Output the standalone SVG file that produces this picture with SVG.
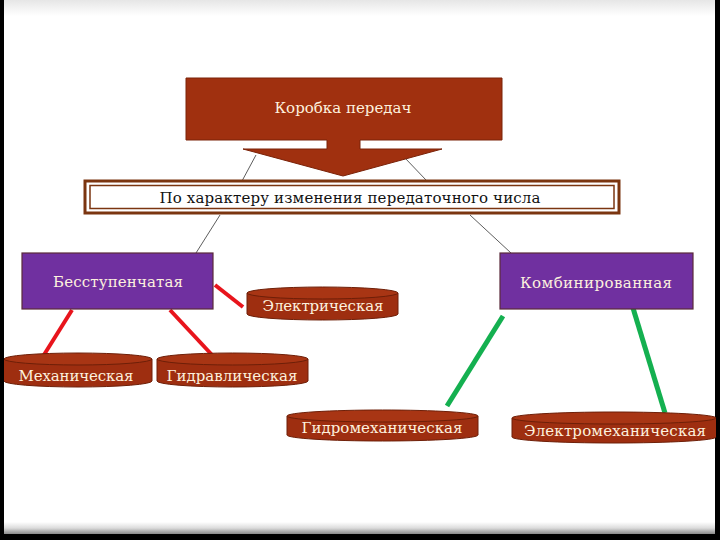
<svg xmlns="http://www.w3.org/2000/svg" width="720" height="540" viewBox="0 0 720 540">
<defs>
<linearGradient id="topShade" x1="0" y1="0" x2="0" y2="1">
<stop offset="0" stop-color="#e6e6e6"/><stop offset="1" stop-color="#ffffff"/>
</linearGradient>
<linearGradient id="botShade" x1="0" y1="0" x2="0" y2="1">
<stop offset="0" stop-color="#ffffff"/><stop offset="0.5" stop-color="#dcdcdc"/><stop offset="1" stop-color="#8a8a8a"/>
</linearGradient>
<style>
.lbl{font-family:"DejaVu Serif","Liberation Serif",serif;font-size:15px;fill:#fdf1de;text-anchor:middle}
.dark{fill:#111}
.cyl{fill:#9e2e10;stroke:#6e1f08;stroke-width:1}
.cyltop{fill:#a83514;stroke:#6e1f08;stroke-width:1}
.body{fill:#9e2e10}
.edge{stroke:#6e1f08;stroke-width:1}
.box{fill:#7030a0;stroke:#5a2a3a;stroke-width:1.2}
.thin{stroke:#333;stroke-width:0.8;fill:none}
.red{stroke:#e8141c;stroke-width:4;stroke-linecap:butt}
.green{stroke:#14b050;stroke-width:5;stroke-linecap:butt}
</style>
</defs>
<!-- frame -->
<rect x="0" y="0" width="720" height="540" fill="#000"/>
<rect x="4" y="0" width="711" height="534" fill="#fff"/>
<rect x="4" y="0" width="711" height="16" fill="url(#topShade)"/>
<rect x="4" y="522" width="711" height="12" fill="url(#botShade)"/>

<g id="connectors">
<line class="thin" x1="256" y1="155" x2="242" y2="181"/>
<line class="thin" x1="405" y1="158" x2="426" y2="180"/>
<line class="thin" x1="220" y1="215" x2="196" y2="253"/>
<line class="thin" x1="470" y1="215" x2="511" y2="253"/>
<line class="red" x1="215" y1="285" x2="243" y2="307"/>
<line class="red" x1="72" y1="310" x2="42" y2="358"/>
<line class="red" x1="170" y1="310" x2="213" y2="356"/>
<line class="green" x1="503" y1="316" x2="447" y2="406"/>
<line class="green" x1="633" y1="308" x2="665" y2="413"/>
</g>

<g id="gearbox">
<path d="M186,78 H502 V140 H360 V149 H442 L343,176 L243,149 H327 V140 H186 Z" fill="#a0300f" stroke="#7a2208" stroke-width="1"/>
<text class="lbl" x="343" y="113" textLength="137">Коробка передач</text>
</g>

<g id="criterion">
<rect x="85" y="181" width="534" height="32" fill="#fff" stroke="#7b3510" stroke-width="3"/>
<rect x="90" y="185.5" width="524" height="23" fill="none" stroke="#7b3510" stroke-width="1.5"/>
<text class="lbl dark" x="350" y="203" textLength="381">По характеру изменения передаточного числа</text>
</g>

<g id="stepless">
<rect class="box" x="22" y="253" width="191" height="56"/>
<text class="lbl" x="118" y="287" textLength="130">Бесступенчатая</text>
</g>

<g id="combined">
<rect class="box" x="500" y="253" width="193" height="56"/>
<text class="lbl" x="596" y="288" textLength="152">Комбинированная</text>
</g>

<g id="electric">
<ellipse class="cyl" cx="322.5" cy="314" rx="75.5" ry="6"/>
<rect class="body" x="247" y="293" width="151" height="21"/>
<line class="edge" x1="247" y1="293" x2="247" y2="314"/>
<line class="edge" x1="398" y1="293" x2="398" y2="314"/>
<ellipse class="cyltop" cx="322.5" cy="293" rx="75.5" ry="6"/>
<text class="lbl" x="323" y="311" textLength="121">Электрическая</text>
</g>

<g id="mechanical">
<ellipse class="cyl" cx="78" cy="381" rx="74" ry="6"/>
<rect class="body" x="4" y="359" width="148" height="22"/>
<line class="edge" x1="152" y1="359" x2="152" y2="381"/>
<ellipse class="cyltop" cx="78" cy="359" rx="74" ry="6"/>
<text class="lbl" x="76" y="381" textLength="115">Механическая</text>
</g>

<g id="hydraulic">
<ellipse class="cyl" cx="232.5" cy="381" rx="75.5" ry="6"/>
<rect class="body" x="157" y="359" width="151" height="22"/>
<line class="edge" x1="157" y1="359" x2="157" y2="381"/>
<line class="edge" x1="308" y1="359" x2="308" y2="381"/>
<ellipse class="cyltop" cx="232.5" cy="359" rx="75.5" ry="6"/>
<text class="lbl" x="232" y="381" textLength="131">Гидравлическая</text>
</g>

<g id="hydromechanical">
<ellipse class="cyl" cx="382.5" cy="435" rx="95.5" ry="6"/>
<rect class="body" x="287" y="416" width="191" height="19"/>
<line class="edge" x1="287" y1="416" x2="287" y2="435"/>
<line class="edge" x1="478" y1="416" x2="478" y2="435"/>
<ellipse class="cyltop" cx="382.5" cy="416" rx="95.5" ry="6"/>
<text class="lbl" x="382" y="433" textLength="161">Гидромеханическая</text>
</g>

<g id="electromechanical">
<ellipse class="cyl" cx="614" cy="437" rx="102" ry="6"/>
<rect class="body" x="512" y="418" width="204" height="19"/>
<line class="edge" x1="512" y1="418" x2="512" y2="437"/>
<ellipse class="cyltop" cx="614" cy="418" rx="102" ry="6"/>
<text class="lbl" x="615" y="436" textLength="182">Электромеханическая</text>
</g>
</svg>
